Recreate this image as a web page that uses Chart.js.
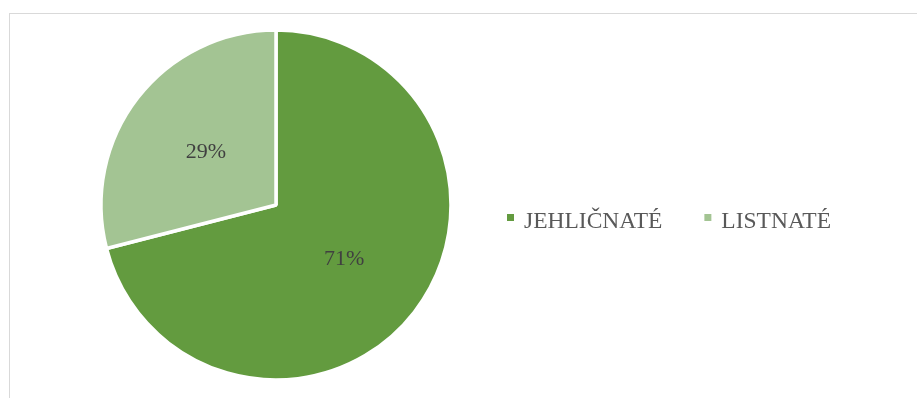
<!DOCTYPE html>
<html>
<head>
<meta charset="utf-8">
<script src="https://cdn.jsdelivr.net/npm/chart.js@4/dist/chart.umd.min.js"></script>
<style>
  html, body { margin: 0; padding: 0; background: #ffffff; overflow: hidden; }
  #wrap { position: relative; width: 917px; height: 398px; }
  #frame { position: absolute; left: 9px; top: 13px; width: 920px; height: 400px;
           border: 1px solid #d9d9d9; box-sizing: border-box; }
  canvas { position: absolute; left: 0; top: 0; }
</style>
</head>
<body>
<div id="wrap">
  <div id="frame"></div>
  <canvas id="c" width="917" height="398"></canvas>
</div>
<script>
// Podíl dřevin
const categories = ['JEHLIČNATÉ', 'LISTNATÉ'];
const shares = [71, 29];
const colors = ['#639b3f', '#a3c493'];

const FONT = '"Liberation Serif", "Times New Roman", serif';

// Percentage labels placed at the middle of each slice
const sliceLabels = {
  id: 'sliceLabels',
  afterDatasetsDraw(chart) {
    const ctx = chart.ctx;
    const meta = chart.getDatasetMeta(0);
    ctx.save();
    ctx.font = '22px ' + FONT;
    ctx.fillStyle = '#404040';
    ctx.textAlign = 'center';
    ctx.textBaseline = 'middle';
    meta.data.forEach((arc, i) => {
      const p = arc.getCenterPoint();
      ctx.fillText(shares[i] + '%', p.x - 1, p.y + 1);
    });
    ctx.restore();
  }
};

// Horizontal legend to the right of the pie
const sideLegend = {
  id: 'sideLegend',
  afterDraw(chart) {
    const ctx = chart.ctx;
    ctx.save();
    ctx.font = '23.5px ' + FONT;
    ctx.textBaseline = 'alphabetic';
    ctx.textAlign = 'left';
    let x = 507;
    const baseline = 228;
    categories.forEach((name, i) => {
      ctx.fillStyle = colors[i];
      ctx.fillRect(x, 214, 7, 7);
      ctx.fillStyle = '#595959';
      ctx.fillText(name, x + 17, baseline);
      x += 17 + ctx.measureText(name).width + 42;
    });
    ctx.restore();
  }
};

new Chart(document.getElementById('c'), {
  type: 'pie',
  data: {
    labels: categories,
    datasets: [{
      data: shares,
      backgroundColor: colors,
      borderColor: '#ffffff',
      borderWidth: 3.5,
      hoverOffset: 0
    }]
  },
  options: {
    responsive: false,
    animation: false,
    radius: 175,
    layout: { padding: { left: 90, right: 455, top: 22, bottom: 10 } },
    plugins: {
      legend: { display: false },
      tooltip: { enabled: false }
    }
  },
  plugins: [sliceLabels, sideLegend]
});
</script>
</body>
</html>
